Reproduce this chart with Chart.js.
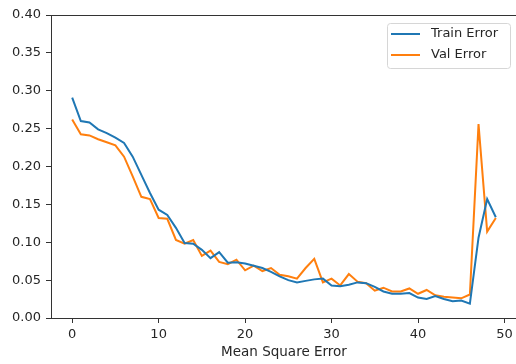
<!DOCTYPE html>
<html>
<head>
<meta charset="utf-8">
<script src="https://cdn.jsdelivr.net/npm/chart.js@4.4.1/dist/chart.umd.min.js"></script>
<style>
  html, body { margin: 0; padding: 0; background: #fff; overflow: hidden; }
  #wrap { width: 516px; height: 364px; overflow: hidden; }
  canvas { display: block; }
</style>
</head>
<body>
<div id="wrap"><canvas id="c" width="520" height="364"></canvas></div>
<script>
// epochs 0..49
const epochs = [0,1,2,3,4,5,6,7,8,9,10,11,12,13,14,15,16,17,18,19,20,21,22,23,24,25,26,27,28,29,30,31,32,33,34,35,36,37,38,39,40,41,42,43,44,45,46,47,48,49];
const trainError = [0.291,0.260,0.258,0.249,0.244,0.238,0.231,0.213,0.189,0.165,0.143,0.136,0.119,0.099,0.098,0.090,0.079,0.087,0.073,0.0735,0.072,0.069,0.066,0.061,0.055,0.050,0.047,0.049,0.051,0.052,0.043,0.042,0.044,0.047,0.046,0.041,0.035,0.032,0.032,0.033,0.027,0.025,0.029,0.025,0.022,0.023,0.019,0.106,0.157,0.133];
const valError = [0.262,0.2425,0.241,0.236,0.232,0.228,0.213,0.187,0.160,0.157,0.132,0.131,0.103,0.098,0.103,0.082,0.089,0.074,0.071,0.077,0.063,0.069,0.062,0.066,0.057,0.055,0.052,0.066,0.078,0.047,0.052,0.043,0.058,0.048,0.046,0.036,0.040,0.035,0.035,0.039,0.032,0.037,0.030,0.028,0.027,0.026,0.031,0.256,0.114,0.132];
const xTicks = [0, 10, 20, 30, 40, 50];
const yTicks = [0, 0.05, 0.10, 0.15, 0.20, 0.25, 0.30, 0.35, 0.40];

const font = { family: 'DejaVu Sans', size: 13 };
const titleFont = { family: 'DejaVu Sans', size: 13.5 };
const ink = '#262626';
const spine = '#333';

// top/right spines + legend box like matplotlib
const framePlugin = {
  id: 'frame',
  afterDraw(chart) {
    const { ctx, chartArea: a } = chart;
    ctx.save();
    ctx.strokeStyle = spine;
    ctx.lineWidth = 1;
    ctx.beginPath();
    ctx.moveTo(a.left, a.top + 0.5);
    ctx.lineTo(a.right, a.top + 0.5);
    ctx.lineTo(a.right - 0.5, a.bottom);
    ctx.stroke();

    // legend
    const bx = 387, by = 23, bw = 123, bh = 45;
    ctx.fillStyle = 'rgba(255,255,255,0.8)';
    ctx.strokeStyle = '#d6d6d6';
    ctx.beginPath();
    ctx.roundRect(bx + 0.5, by + 0.5, bw, bh, 3);
    ctx.fill();
    ctx.stroke();
    ctx.font = '13px "DejaVu Sans"';
    ctx.textBaseline = 'middle';
    chart.data.datasets.forEach((ds, i) => {
      const y = by + 11 + i * 21;
      ctx.strokeStyle = ds.borderColor;
      ctx.lineWidth = 2;
      ctx.beginPath();
      ctx.moveTo(bx + 4, y);
      ctx.lineTo(bx + 33, y);
      ctx.stroke();
      ctx.fillStyle = ink;
      ctx.fillText(ds.label, bx + 44, y);
    });
    ctx.restore();
  }
};

new Chart(document.getElementById('c').getContext('2d'), {
  type: 'line',
  data: {
    datasets: [{
      label: 'Train Error',
      data: epochs.map((e, i) => ({ x: e, y: trainError[i] })),
      borderColor: '#1f77b4',
      borderWidth: 2,
      pointRadius: 0,
      tension: 0,
      fill: false
    }, {
      label: 'Val Error',
      data: epochs.map((e, i) => ({ x: e, y: valError[i] })),
      borderColor: '#ff7f0e',
      borderWidth: 2,
      pointRadius: 0,
      tension: 0,
      fill: false
    }]
  },
  options: {
    responsive: false,
    animation: false,
    layout: { padding: { top: 15, right: 3, left: 0, bottom: 0 } },
    plugins: { legend: { display: false }, tooltip: { enabled: false } },
    scales: {
      x: {
        type: 'linear',
        min: -2.45,
        max: 51.45,
        afterBuildTicks: s => { s.ticks = xTicks.map(v => ({ value: v })); },
        afterFit: s => { s.height = 46; },
        grid: { drawOnChartArea: false, tickLength: 5, color: spine },
        border: { color: spine, width: 1 },
        ticks: { font, color: ink, padding: 4, maxRotation: 0 },
        title: { display: true, text: 'Mean Square Error', font: titleFont, color: ink, padding: { top: 0, bottom: 3 } }
      },
      y: {
        min: 0,
        max: 0.4,
        afterBuildTicks: s => { s.ticks = yTicks.map(v => ({ value: v })); },
        afterFit: s => { s.width = 51; },
        grid: { drawOnChartArea: false, tickLength: 5, color: spine },
        border: { color: spine, width: 1 },
        ticks: { font, color: ink, padding: 5, callback: v => v.toFixed(2) }
      }
    }
  },
  plugins: [framePlugin]
});
</script>
</body>
</html>
